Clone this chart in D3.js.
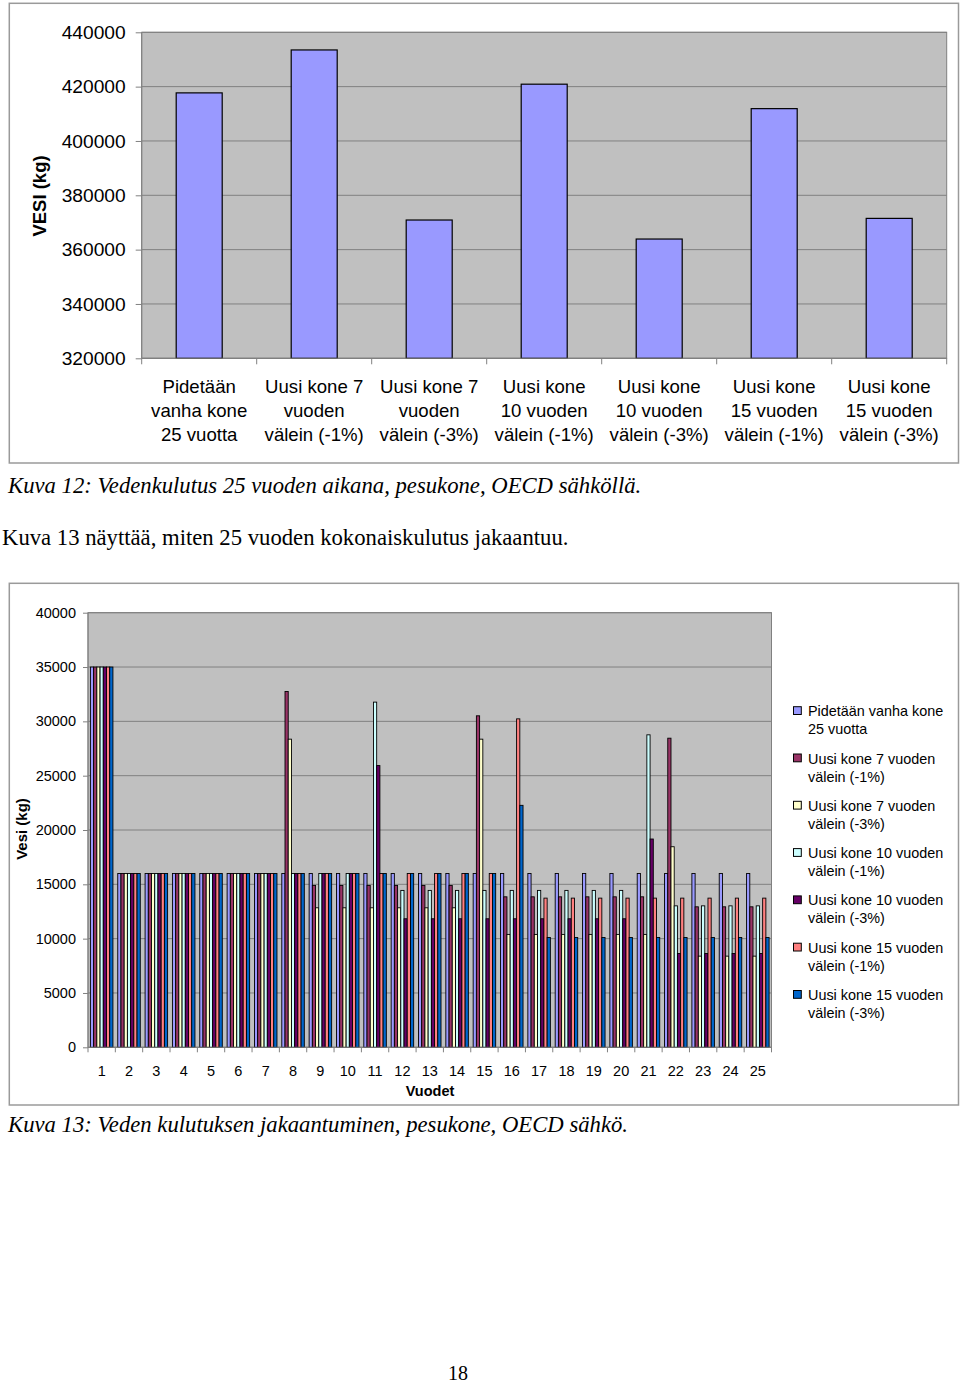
<!DOCTYPE html>
<html><head><meta charset="utf-8">
<script src="https://cdn.jsdelivr.net/npm/d3@7"></script>
<style>
body{margin:0;background:#fff;}
svg{display:block;}
.sans{font-family:"Liberation Sans",Arial,sans-serif;}
.serif{font-family:"Liberation Serif","Times New Roman",serif;}
</style></head><body>
<svg id="page" width="960" height="1385"></svg>
<script>
// ---------- Chart 1 data ----------
const categories1 = ["c1","c2","c3","c4","c5","c6","c7"];
const categoryLines1 = [
  ["Pidetään","vanha kone","25 vuotta"],
  ["Uusi kone 7","vuoden","välein (-1%)"],
  ["Uusi kone 7","vuoden","välein (-3%)"],
  ["Uusi kone","10 vuoden","välein (-1%)"],
  ["Uusi kone","10 vuoden","välein (-3%)"],
  ["Uusi kone","15 vuoden","välein (-1%)"],
  ["Uusi kone","15 vuoden","välein (-3%)"]
];
const values1 = [417700, 433500, 370900, 420900, 363900, 411900, 371500];
const ticks1 = [320000, 340000, 360000, 380000, 400000, 420000, 440000];

// ---------- Chart 2 data ----------
const years = [1,2,3,4,5,6,7,8,9,10,11,12,13,14,15,16,17,18,19,20,21,22,23,24,25];
const seriesNames = ["s1","s2","s3","s4","s5","s6","s7"];
const legendLines = [
  ["Pidetään vanha kone","25 vuotta"],
  ["Uusi kone 7 vuoden","välein (-1%)"],
  ["Uusi kone 7 vuoden","välein (-3%)"],
  ["Uusi kone 10 vuoden","välein (-1%)"],
  ["Uusi kone 10 vuoden","välein (-3%)"],
  ["Uusi kone 15 vuoden","välein (-1%)"],
  ["Uusi kone 15 vuoden","välein (-3%)"]
];
const vanha25   = [35000,16000,16000,16000,16000,16000,16000,16000,16000,16000,16000,16000,16000,16000,16000,16000,16000,16000,16000,16000,16000,16000,16000,16000,16000];
const kone7m1   = [35000,16000,16000,16000,16000,16000,16000,32750,14900,14900,14900,14900,14900,14900,30510,13850,13850,13850,13850,13850,13850,28450,12930,12930,12930];
const kone7m3   = [35000,16000,16000,16000,16000,16000,16000,28360,12840,12840,12840,12840,12840,12840,28360,10390,10390,10390,10390,10390,10390,18460,8390,8390,8390];
const kone10m1  = [35000,16000,16000,16000,16000,16000,16000,16000,16000,16000,31770,14440,14440,14440,14440,14440,14440,14440,14440,14440,28760,13020,13020,13020,13020];
const kone10m3  = [35000,16000,16000,16000,16000,16000,16000,16000,16000,16000,25930,11830,11830,11830,11830,11830,11830,11830,11830,11830,19170,8630,8630,8630,8630];
const kone15m1  = [35000,16000,16000,16000,16000,16000,16000,16000,16000,16000,16000,16000,16000,16000,16000,30230,13730,13730,13730,13730,13730,13730,13730,13730,13730];
const kone15m3  = [35000,16000,16000,16000,16000,16000,16000,16000,16000,16000,16000,16000,16000,16000,16000,22270,10110,10110,10110,10110,10110,10110,10110,10110,10110];
const seriesValues = [vanha25, kone7m1, kone7m3, kone10m1, kone10m3, kone15m1, kone15m3];
const ticks2 = [0,5000,10000,15000,20000,25000,30000,35000,40000];

// ---------- styles ----------
const seriesColors = ["#9999FF","#993366","#FFFFCC","#CCFFFF","#660066","#FF8080","#0066CC"];
const plotBg = "#C0C0C0", gridCol = "#808080", frameCol = "#9a9a9a";

const svg = d3.select("#page");
svg.append("rect").attr("width",960).attr("height",1385).attr("fill","#fff");

// ================= Chart 1 =================
{
  const L=141.7, R=946.7, T=32.3, B=358.3;
  svg.append("rect").attr("x",9.3).attr("y",3.3).attr("width",949.2).attr("height",459.7)
     .attr("fill","#fff").attr("stroke",frameCol).attr("stroke-width",1.5);
  const x = d3.scaleBand().domain(categories1).range([L,R]).paddingInner(0.6).paddingOuter(0.3);
  const y = d3.scaleLinear().domain([320000,440000]).range([B,T]);
  const g = svg.append("g").attr("class","sans");
  g.append("rect").attr("x",L).attr("y",T).attr("width",R-L).attr("height",B-T)
    .attr("fill",plotBg).attr("stroke",gridCol).attr("stroke-width",1);
  g.append("g").selectAll("line").data(ticks1).join("line")
    .attr("x1",L).attr("x2",R).attr("y1",d=>y(d)).attr("y2",d=>y(d))
    .attr("stroke",gridCol).attr("stroke-width",1);
  g.append("g").selectAll("rect").data(values1).join("rect")
    .attr("x",(d,i)=>x(categories1[i])).attr("width",x.bandwidth())
    .attr("y",d=>y(d)).attr("height",d=>B-y(d))
    .attr("fill",seriesColors[0]).attr("stroke","#000").attr("stroke-width",1.2);
  const ay = g.append("g").attr("transform",`translate(${L},0)`)
    .call(d3.axisLeft(y).tickValues(ticks1).tickSize(6).tickPadding(10).tickFormat(d3.format("d")));
  ay.select(".domain").remove();
  ay.selectAll("line").attr("stroke",gridCol);
  ay.selectAll("text").attr("font-size","19.2px").attr("fill","#000");
  ay.attr("font-family",null).attr("font-size",null);
  g.append("line").attr("x1",L).attr("x2",L).attr("y1",T).attr("y2",B).attr("stroke",gridCol);
  g.append("line").attr("x1",L).attr("x2",R).attr("y1",B).attr("y2",B).attr("stroke",gridCol);
  // category boundary ticks
  const step = x.step(), off = (x.step()-x.bandwidth())/2;
  const bounds = categories1.map(c=>x(c)-off).concat([x(categories1[categories1.length-1])-off+step]);
  g.append("g").selectAll("line").data(bounds).join("line")
    .attr("x1",d=>d).attr("x2",d=>d).attr("y1",B).attr("y2",B+6).attr("stroke",gridCol);
  // category labels
  const cl = g.append("g").selectAll("text").data(categoryLines1).join("text")
    .attr("text-anchor","middle").attr("font-size","18.6px")
    .attr("x",(d,i)=>x(categories1[i])+x.bandwidth()/2).attr("y",392.7);
  cl.selectAll("tspan").data(d=>d).join("tspan")
    .attr("x",function(){return this.parentNode.getAttribute("x");})
    .attr("dy",(d,i)=>i===0?0:24).text(d=>d);
  g.append("text").attr("transform","translate(40,196) rotate(-90)")
    .attr("text-anchor","middle").attr("dy","0.35em").attr("font-weight","bold")
    .attr("font-size","18.5px").text("VESI (kg)");
}

// ================= Captions =================
svg.append("text").attr("class","serif").attr("x",8).attr("y",493).attr("font-style","italic")
  .attr("font-size","22.7px").text("Kuva 12: Vedenkulutus 25 vuoden aikana, pesukone, OECD sähköllä.");
svg.append("text").attr("class","serif").attr("x",2).attr("y",545)
  .attr("font-size","22.7px").text("Kuva 13 näyttää, miten 25 vuoden kokonaiskulutus jakaantuu.");

// ================= Chart 2 =================
{
  const L=88, R=771.5, T=612.7, B=1047.3;
  svg.append("rect").attr("x",9.3).attr("y",583.3).attr("width",949.2).attr("height",521.7)
     .attr("fill","#fff").attr("stroke",frameCol).attr("stroke-width",1.5);
  const x0 = d3.scaleBand().domain(years).range([L,R]).paddingInner(1.5/8.5).paddingOuter(0.75/8.5);
  const x1 = d3.scaleBand().domain(seriesNames).range([0,x0.bandwidth()]);
  const y = d3.scaleLinear().domain([0,40000]).range([B,T]);
  const g = svg.append("g").attr("class","sans");
  g.append("rect").attr("x",L).attr("y",T).attr("width",R-L).attr("height",B-T)
    .attr("fill",plotBg).attr("stroke",gridCol);
  g.append("g").selectAll("line").data(ticks2).join("line")
    .attr("x1",L).attr("x2",R).attr("y1",d=>y(d)).attr("y2",d=>y(d)).attr("stroke",gridCol);
  const sg = g.append("g").selectAll("g").data(seriesValues).join("g")
    .attr("fill",(d,i)=>seriesColors[i])
    .attr("transform",(d,i)=>`translate(${x1(seriesNames[i])},0)`);
  sg.selectAll("rect").data(d=>d).join("rect")
    .attr("x",(d,j)=>x0(years[j])).attr("width",x1.bandwidth())
    .attr("y",d=>y(d)).attr("height",d=>B-y(d))
    .attr("stroke","#000").attr("stroke-width",0.9);
  const ay = g.append("g").attr("transform",`translate(${L},0)`)
    .call(d3.axisLeft(y).tickValues(ticks2).tickSize(5).tickPadding(7).tickFormat(d3.format("d")));
  ay.select(".domain").remove();
  ay.selectAll("line").attr("stroke",gridCol);
  ay.selectAll("text").attr("font-size","14.5px").attr("fill","#000");
  ay.attr("font-family",null).attr("font-size",null);
  const ax = g.append("g").attr("transform",`translate(0,${B})`)
    .call(d3.axisBottom(x0).tickSize(0).tickPadding(18.7));
  ax.select(".domain").remove();
  ax.selectAll("text").attr("font-size","14.5px").attr("fill","#000");
  ax.attr("font-family",null).attr("font-size",null);
  g.append("line").attr("x1",L).attr("x2",L).attr("y1",T).attr("y2",B).attr("stroke",gridCol);
  g.append("line").attr("x1",L).attr("x2",R).attr("y1",B).attr("y2",B).attr("stroke",gridCol);
  const off = (x0.step()-x0.bandwidth())/2;
  const bounds = years.map(v=>x0(v)-off).concat([x0(years[years.length-1])-off+x0.step()]);
  g.append("g").selectAll("line").data(bounds).join("line")
    .attr("x1",d=>d).attr("x2",d=>d).attr("y1",B).attr("y2",B+5).attr("stroke",gridCol);
  g.append("text").attr("x",430).attr("y",1096).attr("text-anchor","middle")
    .attr("font-weight","bold").attr("font-size","14.5px").text("Vuodet");
  g.append("text").attr("transform","translate(22,829) rotate(-90)")
    .attr("text-anchor","middle").attr("dy","0.35em").attr("font-weight","bold")
    .attr("font-size","15px").text("Vesi (kg)");
  // legend
  const lg = g.append("g").selectAll("g").data(legendLines).join("g")
    .attr("transform",(d,i)=>`translate(793.5,${706.7+i*47.3})`);
  lg.append("rect").attr("width",7.8).attr("height",7.8)
    .attr("fill",(d,i)=>seriesColors[i]).attr("stroke","#000").attr("stroke-width",1);
  const lt = lg.append("text").attr("x",14.5).attr("y",9.5).attr("font-size","14.4px");
  lt.selectAll("tspan").data(d=>d).join("tspan").attr("x",14.5)
    .attr("dy",(d,i)=>i===0?0:18).text(d=>d);
}

svg.append("text").attr("class","serif").attr("x",8).attr("y",1132).attr("font-style","italic")
  .attr("font-size","22.7px").text("Kuva 13: Veden kulutuksen jakaantuminen, pesukone, OECD sähkö.");
svg.append("text").attr("class","serif").attr("x",458).attr("y",1380).attr("text-anchor","middle")
  .attr("font-size","20px").text("18");
</script>
</body></html>
